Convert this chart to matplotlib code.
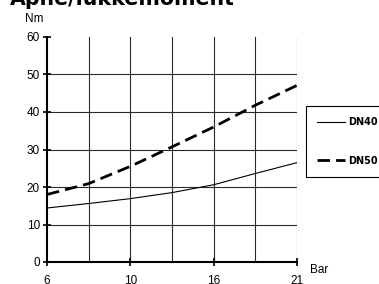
import matplotlib
matplotlib.use("Agg")
from matplotlib import pyplot as plt

# pressure steps (category axis, only every other one is labelled)
pressure = [6, 8, 10, 13, 16, 18, 21]
tick_pos = [0, 2, 4, 6]
tick_labels = ["6", "10", "16", "21"]

dn40 = [14.4, 15.6, 16.9, 18.5, 20.6, 23.6, 26.5]
dn50 = [18.0, 20.9, 25.5, 30.7, 36.0, 41.8, 47.1]

plt.rcParams['font.family'] = ['Liberation Sans', 'DejaVu Sans']

fig = plt.figure(figsize=(3.79, 2.84), dpi=100)
ax = fig.add_axes([47 / 379, 1 - 262 / 284, 250 / 379, 225 / 284])

x = range(len(pressure))
ax.plot(x, dn40, color='black', lw=0.8, label='DN40')
ax.plot(x, dn50, color='black', lw=2.0, dashes=(4.5, 2.2), label='DN50')

ax.set_xlim(0, 6)
ax.set_ylim(0, 60)
ax.set_xticks(tick_pos)
ax.set_xticklabels(tick_labels)
ax.set_yticks(range(0, 61, 10))

# vertical grid on every pressure step, horizontal on every 10 Nm
for xv in range(1, len(pressure)):
    ax.axvline(xv, color='#2a2a2a', lw=0.8, zorder=0)
for yv in range(10, 60, 10):
    ax.axhline(yv, color='#2a2a2a', lw=0.8, zorder=0)

for s in ['top', 'right']:
    ax.spines[s].set_visible(False)
for s in ['left', 'bottom']:
    ax.spines[s].set_linewidth(1.5)

ax.tick_params(direction='inout', length=6, width=1.2, labelsize=8.5, pad=2)
ax.tick_params(axis='x', pad=6)

fig.text(10 / 379, 1 - 5 / 284, "Åpne/lukkemoment", fontsize=14.8,
         fontweight='bold', family='DejaVu Sans', va='baseline', ha='left')
fig.text(34 / 379, 1 - 19 / 284, "Nm", fontsize=8.5, ha='center', va='center')
fig.text(310 / 379, 1 - 270 / 284, "Bar", fontsize=8.5, ha='left', va='center')

leg = fig.legend(loc='center left', bbox_to_anchor=(306 / 379, 1 - 141.5 / 284),
                 frameon=True, fancybox=False, edgecolor='black', framealpha=1,
                 prop={'family': 'DejaVu Sans', 'weight': 'bold', 'size': 7},
                 handlelength=2.9, handletextpad=0.3, labelspacing=2.95,
                 borderpad=1.15, borderaxespad=0)
leg.get_frame().set_linewidth(0.8)

fig.savefig("out.png", dpi=100)
